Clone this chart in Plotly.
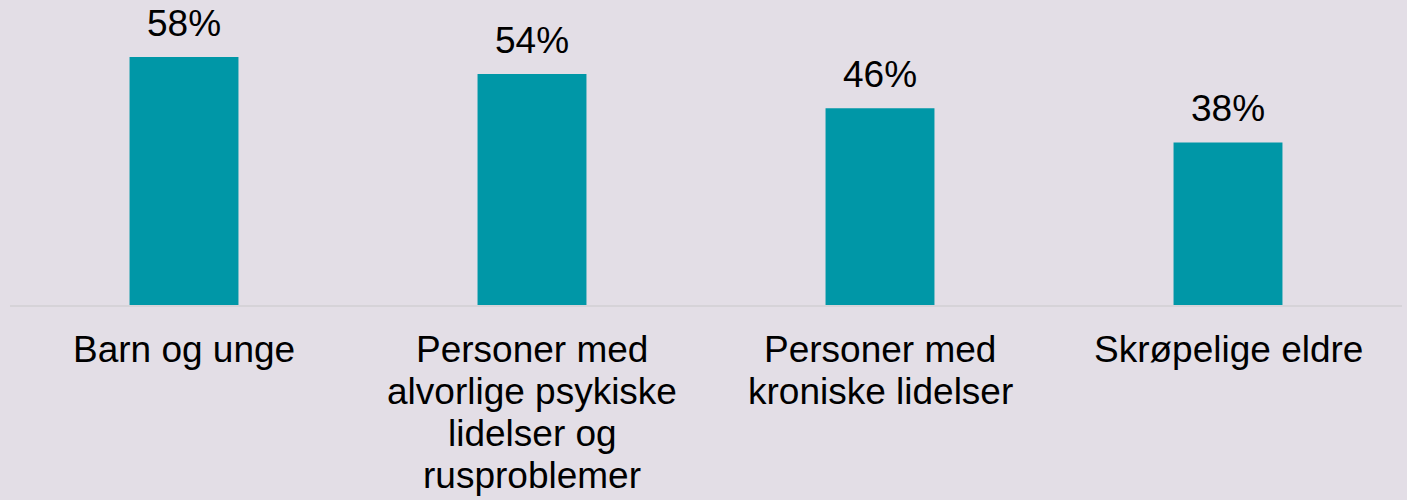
import plotly.graph_objects as go

categories = ["Barn og unge",
              "Personer med<br>alvorlige psykiske<br>lidelser og<br>rusproblemer",
              "Personer med<br>kroniske lidelser",
              "Skrøpelige eldre"]
values = [58, 54, 46, 38]
value_labels = ["58%", "54%", "46%", "38%"]

BG = "#E3DEE6"
BAR = "#0097A7"
FONT = "Liberation Sans, Arial, sans-serif"
FS = 37

fig = go.Figure()
fig.add_trace(go.Bar(x=categories, y=values, marker=dict(color=BAR, line=dict(width=0)),
                     width=0.313, hoverinfo="skip"))

annotations = []
for c, v, t in zip(categories, values, value_labels):
    annotations.append(dict(x=c, y=v, xref="x", yref="y", text=t, showarrow=False,
                            yanchor="bottom", yshift=11,
                            font=dict(family=FONT, size=FS, color="#000000")))
    for i, line in enumerate(c.split("<br>")):
        annotations.append(dict(x=c, y=0, xref="x", yref="y", text=line, showarrow=False,
                                yanchor="top", yshift=-22 - i * 42,
                                font=dict(family=FONT, size=FS, color="#000000")))

fig.update_layout(
    width=1407, height=500,
    margin=dict(l=10, r=5, t=0, b=195),
    paper_bgcolor=BG, plot_bgcolor=BG,
    showlegend=False,
    bargap=0.687,
    annotations=annotations,
    xaxis=dict(showticklabels=False, showgrid=False, zeroline=False,
               showline=True, linecolor="#D6D3D8", linewidth=2, ticks=""),
    yaxis=dict(range=[0, 71.3], visible=False, showgrid=False, zeroline=False),
)

fig.write_html("out.html", config={"displayModeBar": False},
               post_script="document.body.style.margin='0';document.body.style.background='%s';" % BG)
